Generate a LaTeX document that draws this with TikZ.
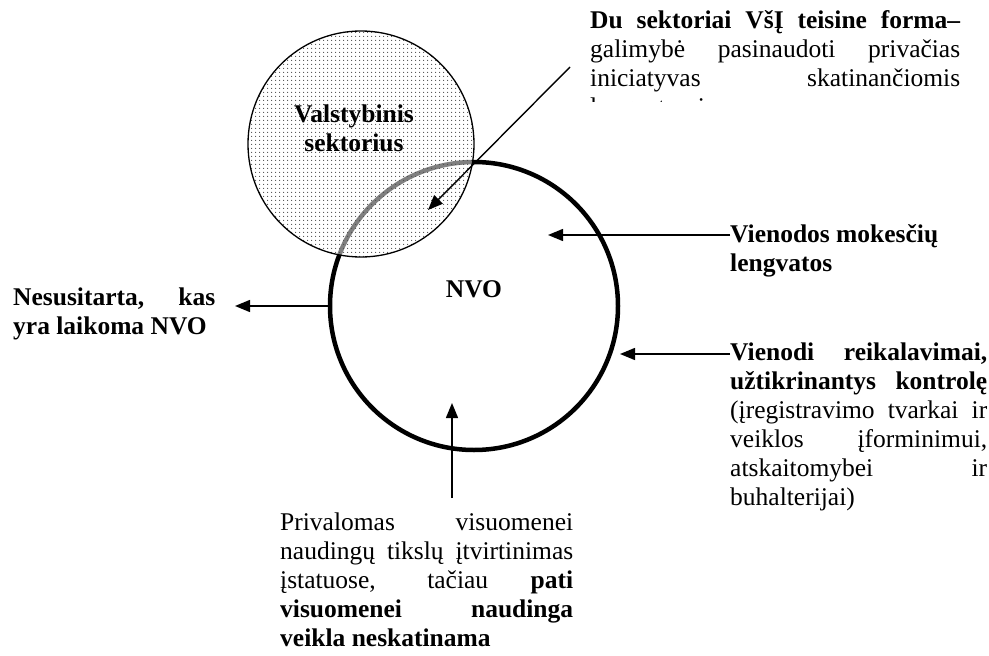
\documentclass[tikz,border=0pt]{standalone}
\usepackage{fontspec}
\setmainfont{Liberation Serif}
\usetikzlibrary{arrows.meta,patterns.meta}

\tikzset{
  arr/.style={-{Triangle[length=15pt,width=12pt]}, line width=1.4pt},
  ring/.style={circle, draw, inner sep=0pt},
  txt/.style={anchor=base west, inner sep=0pt, align=justify, font=\fontsize{25.5}{29}\selectfont},
  lbl/.style={anchor=base, inner sep=0pt, align=center, font=\bfseries\fontsize{25.5}{29}\selectfont},
}

\begin{document}
\begin{tikzpicture}[x=1pt, y=-1pt]
\useasboundingbox (0,0) rectangle (989,656);
% circles
\node[ring, minimum size=288pt, line width=4.5pt] (nvo) at (474,306) {};
\node[ring, minimum size=226pt, line width=1.3pt, preaction={fill=white, fill opacity=.5},
  pattern={Dots[distance=4pt, radius=.75pt]}, pattern color=black!70] (val) at (361,144) {};
\node[lbl, text width=160pt] (valL) at (354,122) {Valstybinis\\sektorius};
\node[lbl] (nvoL) at (474,297) {NVO};
% texts
\begin{scope}
\clip (0,0) rectangle (989,101);
\node[txt, text width=370pt] (sek) at (590,28) {\textbf{Du sektoriai VšĮ teisine forma–}\linebreak
  galimybė pasinaudoti privačias\linebreak iniciatyvas skatinančiomis\linebreak lengvatomis};
\end{scope}
\node[txt, text width=202pt, font=\bfseries\fontsize{25.5}{29}\selectfont] (nes) at (13,305) {Nesusitarta, kas\linebreak yra laikoma NVO};
\node[txt, text width=257pt, font=\bfseries\fontsize{25.5}{29}\selectfont] (mok) at (730,242) {Vienodos mokesčių\\lengvatos};
\node[txt, text width=257pt] (req) at (730,360) {\textbf{Vienodi reikalavimai,}\linebreak
  \textbf{užtikrinantys kontrolę}\linebreak (įregistravimo tvarkai ir\linebreak
  veiklos įforminimui,\linebreak atskaitomybei ir\linebreak buhalterijai)};
\node[txt, text width=293pt] (priv) at (280,530) {Privalomas visuomenei\linebreak
  naudingų tikslų įtvirtinimas\linebreak įstatuose, tačiau \textbf{pati}\linebreak
  \textbf{visuomenei naudinga}\linebreak \textbf{veikla neskatinama}};
% arrows
\coordinate (sekS) at (570,67);
\coordinate (sekT) at (428,210);
\coordinate (mokT) at (548,235);
\coordinate (reqT) at (620,354);
\coordinate (nesT) at (235,306);
\coordinate (privS) at (452,498);
\coordinate (privT) at (452,403);
\draw[arr] (sekS) -- (sekT);
\draw[arr] ([yshift=7pt]mok.base west) -- (mokT);
\draw[arr] ([yshift=6pt]req.base west) -- (reqT);
\draw[arr] (nvo.west) -- (nesT);
\draw[arr] (privS) -- (privT);
\end{tikzpicture}
\end{document}
